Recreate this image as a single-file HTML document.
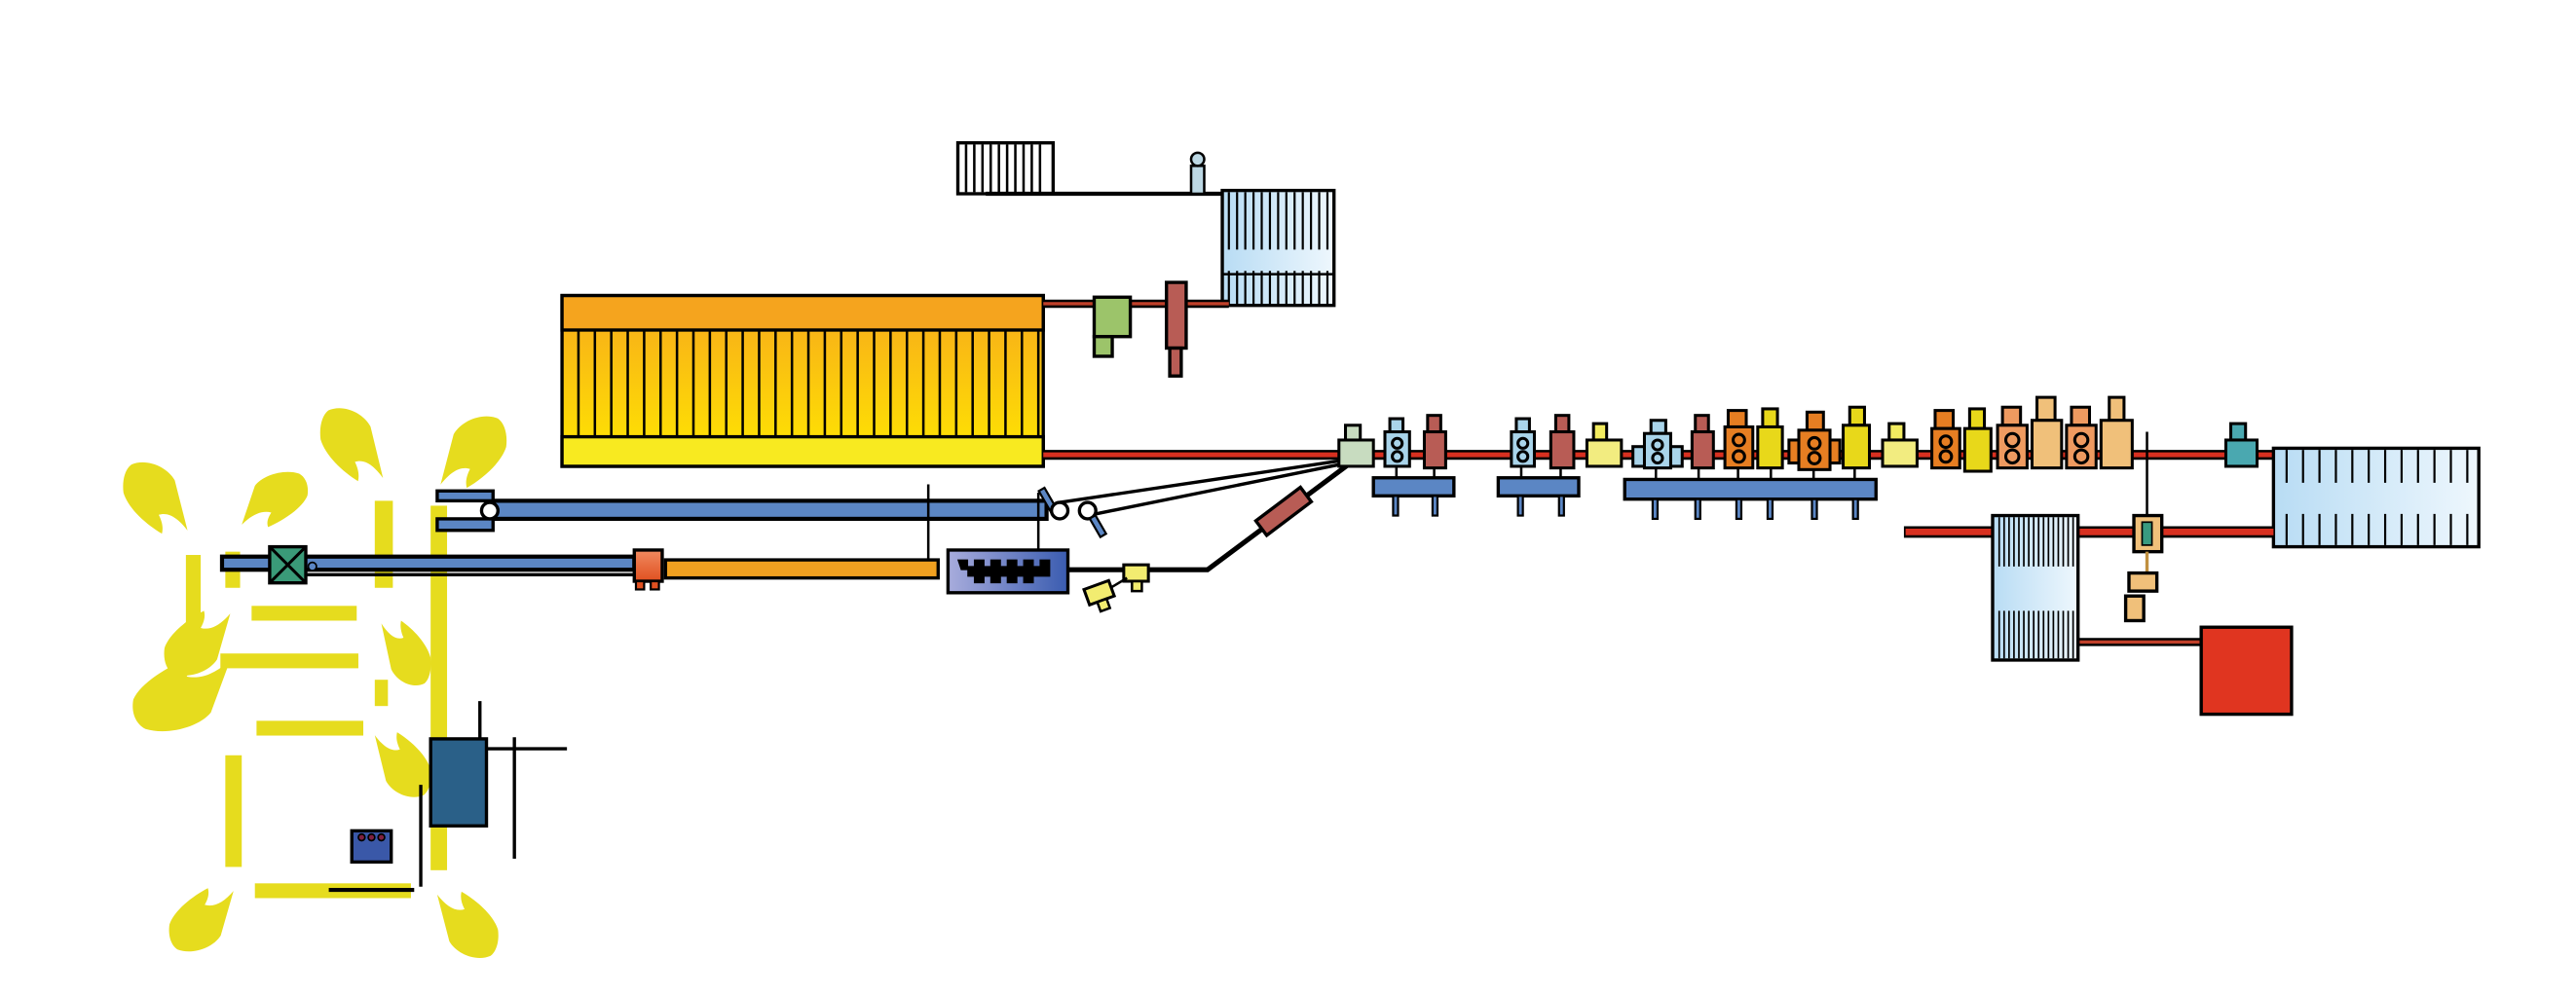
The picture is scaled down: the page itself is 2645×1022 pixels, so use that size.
<!DOCTYPE html>
<html><head><meta charset="utf-8"><style>html,body{margin:0;padding:0;background:#fff}svg{display:block}</style></head>
<body>
<svg width="2645" height="1022" viewBox="0 0 1568 606" xmlns="http://www.w3.org/2000/svg">
<defs>
<linearGradient id="yg" x1="0" y1="0" x2="0" y2="1"><stop offset="0" stop-color="#f7a81c"/><stop offset="1" stop-color="#ffe800"/></linearGradient>
<linearGradient id="bg" x1="0" y1="0" x2="1" y2="0"><stop offset="0" stop-color="#b8dcf4"/><stop offset="1" stop-color="#eef7fd"/></linearGradient>
<linearGradient id="pg" x1="0" y1="0" x2="1" y2="0"><stop offset="0" stop-color="#a8acdc"/><stop offset="1" stop-color="#3a5cb0"/></linearGradient>
<linearGradient id="og" x1="0" y1="0" x2="0" y2="1"><stop offset="0" stop-color="#f08a60"/><stop offset="1" stop-color="#e05020"/></linearGradient>
<path id="fl" d="M5,2 C14,-2 27,3 32,12 L40,44 C34,36 28,32 22,34 C24,38 25,42 24,46 C14,40 3,30 0,20 C-1,12 1,5 5,2Z" fill="#e6dc1e"/>
</defs>
<g stroke="#000" stroke-width="2">
<!-- yellow decorations -->
<g stroke="none" fill="#e6dc1e">
<rect x="113" y="338" width="9" height="55"/><rect x="137" y="336" width="9" height="22"/>
<rect x="228" y="305" width="11" height="53"/><rect x="262" y="308" width="10" height="222"/>
<rect x="153" y="369" width="64" height="9"/><rect x="134" y="398" width="84" height="9"/>
<rect x="156" y="439" width="65" height="9"/><rect x="155" y="538" width="95" height="9"/>
<rect x="137" y="460" width="10" height="68"/><rect x="228" y="414" width="8" height="16"/>
<use href="#fl" transform="translate(75,281) scale(0.975,0.957)"/>
<use href="#fl" transform="translate(187,287) scale(-1,0.74)"/>
<use href="#fl" transform="translate(195,248) scale(0.95,0.98)"/>
<use href="#fl" transform="translate(308,253) scale(-1,0.96)"/>
<use href="#fl" transform="translate(81,446) scale(1.475,-1)"/>
<use href="#fl" transform="translate(100,412) scale(1,-0.87)"/>
<use href="#fl" transform="translate(262,418) scale(-0.75,-0.87)"/>
<use href="#fl" transform="translate(262,486) scale(-0.85,-0.87)"/>
<use href="#fl" transform="translate(103,580) scale(0.975,-0.85)"/>
<use href="#fl" transform="translate(303,584) scale(-0.925,-0.89)"/>
</g>
<!-- top small grid -->
<rect x="583" y="87" width="58" height="31" fill="#fff"/>
<path d="M588,88V117M593,88V117M598,88V117M603,88V117M608,88V117M613,88V117M618,88V117M623,88V117M628,88V117M633,88V117" stroke-width="1.5"/>
<line x1="600" y1="118" x2="745" y2="118" stroke-width="2.5"/>
<rect x="725" y="101" width="8" height="17" fill="#bcd8e4" stroke-width="1.5"/><circle cx="729" cy="97" r="4" fill="#bcd8e4" stroke-width="1.5"/>
<rect x="744" y="116" width="68" height="70" fill="url(#bg)"/>
<path d="M748,117V152M753,117V152M758,117V152M763,117V152M768,117V152M773,117V152M778,117V152M783,117V152M788,117V152M793,117V152M798,117V152M803,117V152M808,117V152 M748,165V186M753,165V186M758,165V186M763,165V186M768,165V186M773,165V186M778,165V186M783,165V186M788,165V186M793,165V186M798,165V186M803,165V186M808,165V186" stroke-width="1.3"/>
<line x1="744" y1="167" x2="812" y2="167" stroke-width="1.5"/>
<!-- big yellow -->
<rect x="342" y="180" width="293" height="104" fill="url(#yg)"/>
<rect x="342" y="180" width="293" height="21" fill="#f5a41e"/>
<rect x="342" y="266" width="293" height="18" fill="#f8ea20"/>
<g stroke-width="1.5">
<path d="M352,201V266M362,201V266M372,201V266M382,201V266M392,201V266M402,201V266M412,201V266M422,201V266M432,201V266M442,201V266M452,201V266M462,201V266M472,201V266M482,201V266M492,201V266M502,201V266M512,201V266M522,201V266M532,201V266M542,201V266M552,201V266M562,201V266M572,201V266M582,201V266M592,201V266M602,201V266M612,201V266M622,201V266M632,201V266"/>
</g>
<!-- pipes upper -->
<line x1="635" y1="185" x2="748" y2="185" stroke-width="5"/><line x1="635" y1="185" x2="748" y2="185" stroke="#c0402a" stroke-width="2"/>
<rect x="666" y="181" width="22" height="24" fill="#9cc46a"/><rect x="666" y="205" width="11" height="12" fill="#9cc46a"/>
<rect x="710" y="172" width="12" height="40" fill="#b85c55"/><rect x="712" y="212" width="7" height="17" fill="#b85c55"/>
<!-- main pipe -->
<line x1="635" y1="277" x2="1385" y2="277" stroke-width="6"/><line x1="635" y1="277" x2="1385" y2="277" stroke="#d83020" stroke-width="3"/>
<!-- diag lines -->
<line x1="645" y1="306" x2="820" y2="280" stroke-width="2"/>
<line x1="662" y1="314" x2="820" y2="282" stroke-width="2"/>
<polyline points="650,347 735,347 822,282" fill="none" stroke-width="3"/>
<rect x="764" y="306" width="34" height="11" fill="#b85c55" transform="rotate(-37 781 311)"/>
<!-- main line components -->
<g stroke-width="1.8">
<rect x="819" y="259" width="9" height="10" fill="#c8dcc0"/><rect x="815" y="268" width="21" height="16" fill="#c8dcc0"/>
<rect x="846" y="255" width="8" height="9" fill="#a9d4ea"/><rect x="843" y="263" width="15" height="21" fill="#a9d4ea"/><circle cx="850.5" cy="270" r="3" fill="#a9d4ea"/><circle cx="850.5" cy="278" r="3" fill="#a9d4ea"/>
<rect x="869" y="253" width="8" height="10" fill="#b85c55"/><rect x="867" y="263" width="13" height="22" fill="#b85c55"/>
<rect x="923" y="255" width="8" height="9" fill="#a9d4ea"/><rect x="920" y="263" width="14" height="21" fill="#a9d4ea"/><circle cx="927" cy="270" r="3" fill="#a9d4ea"/><circle cx="927" cy="278" r="3" fill="#a9d4ea"/>
<rect x="947" y="253" width="8" height="10" fill="#b85c55"/><rect x="944" y="263" width="14" height="22" fill="#b85c55"/>
<rect x="970" y="258" width="8" height="10" fill="#f2ec60"/><rect x="966" y="268" width="21" height="16" fill="#f2ec80"/>
<rect x="994" y="272" width="30" height="12" fill="#a9d4ea"/><rect x="1005" y="256" width="9" height="8" fill="#a9d4ea"/><rect x="1001" y="264" width="16" height="21" fill="#a9d4ea"/><circle cx="1009" cy="271" r="3" fill="#a9d4ea"/><circle cx="1009" cy="279" r="3" fill="#a9d4ea"/>
<rect x="1032" y="253" width="8" height="10" fill="#b85c55"/><rect x="1030" y="263" width="13" height="22" fill="#b85c55"/>
<rect x="1052" y="250" width="11" height="10" fill="#e67e22"/><rect x="1050" y="260" width="17" height="25" fill="#e67e22"/><circle cx="1058.5" cy="268" r="3.5" fill="#e67e22"/><circle cx="1058.5" cy="278" r="3.5" fill="#e67e22"/>
<rect x="1073" y="249" width="9" height="11" fill="#e8d81a"/><rect x="1070" y="260" width="15" height="25" fill="#e8d81a"/>
<rect x="1089" y="268" width="31" height="14" fill="#e67e22"/><rect x="1100" y="251" width="10" height="11" fill="#e67e22"/><rect x="1095" y="262" width="19" height="24" fill="#e67e22"/><circle cx="1104.5" cy="270" r="3.5" fill="#e67e22"/><circle cx="1104.5" cy="279" r="3.5" fill="#e67e22"/>
<rect x="1126" y="248" width="9" height="11" fill="#e8d81a"/><rect x="1122" y="259" width="16" height="26" fill="#e8d81a"/>
<rect x="1150" y="258" width="9" height="10" fill="#f2ec60"/><rect x="1146" y="268" width="21" height="16" fill="#f2ec80"/>
<rect x="1178" y="250" width="11" height="11" fill="#e67e22"/><rect x="1176" y="261" width="17" height="24" fill="#e67e22"/><circle cx="1184.5" cy="269" r="3.5" fill="#e67e22"/><circle cx="1184.5" cy="278" r="3.5" fill="#e67e22"/>
<rect x="1199" y="249" width="9" height="12" fill="#e8d81a"/><rect x="1196" y="261" width="16" height="26" fill="#e8d81a"/>
<rect x="1219" y="248" width="11" height="11" fill="#ee9a60"/><rect x="1216" y="259" width="18" height="26" fill="#ee9a60"/><circle cx="1225" cy="268" r="4" fill="#ee9a60"/><circle cx="1225" cy="278" r="4" fill="#ee9a60"/>
<rect x="1240" y="242" width="11" height="14" fill="#f0c07a"/><rect x="1237" y="256" width="18" height="29" fill="#f0c07a"/>
<rect x="1261" y="248" width="11" height="11" fill="#ee9a60"/><rect x="1258" y="259" width="18" height="26" fill="#ee9a60"/><circle cx="1267" cy="268" r="4" fill="#ee9a60"/><circle cx="1267" cy="278" r="4" fill="#ee9a60"/>
<rect x="1284" y="242" width="9" height="14" fill="#f0c07a"/><rect x="1279" y="256" width="19" height="29" fill="#f0c07a"/>
<rect x="1358" y="258" width="9" height="10" fill="#4aa8b0"/><rect x="1355" y="268" width="19" height="16" fill="#4aa8b0"/>
</g>
<!-- blue bars -->
<g fill="#5b86c4">
<path d="M850,284V292M873,285V292M926,284V292M950,285V292M1008,285V292M1034,285V292M1058,285V292M1078,285V292M1104,286V292M1129,285V292" stroke-width="1.5"/>
<rect x="836" y="291" width="49" height="11"/><rect x="912" y="291" width="49" height="11"/><rect x="989" y="292" width="153" height="12"/>
<rect x="848" y="302" width="3" height="12" stroke-width="1.3"/><rect x="872" y="302" width="3" height="12" stroke-width="1.3"/>
<rect x="924" y="302" width="3" height="12" stroke-width="1.3"/><rect x="949" y="302" width="3" height="12" stroke-width="1.3"/>
<rect x="1006" y="304" width="3" height="12" stroke-width="1.3"/><rect x="1032" y="304" width="3" height="12" stroke-width="1.3"/><rect x="1057" y="304" width="3" height="12" stroke-width="1.3"/><rect x="1076" y="304" width="3" height="12" stroke-width="1.3"/><rect x="1103" y="304" width="3" height="12" stroke-width="1.3"/><rect x="1128" y="304" width="3" height="12" stroke-width="1.3"/>
</g>
<!-- right side -->
<rect x="1384" y="273" width="125" height="60" fill="url(#bg)"/>
<path d="M1392,274V294M1402,274V294M1412,274V294M1422,274V294M1432,274V294M1442,274V294M1452,274V294M1462,274V294M1472,274V294M1482,274V294M1492,274V294M1502,274V294 M1392,313V332M1402,313V332M1412,313V332M1422,313V332M1432,313V332M1442,313V332M1452,313V332M1462,313V332M1472,313V332M1482,313V332M1492,313V332M1502,313V332" stroke-width="1.3"/>
<line x1="1159" y1="324" x2="1384" y2="324" stroke-width="7"/><line x1="1160" y1="324" x2="1384" y2="324" stroke="#d83020" stroke-width="4"/>
<line x1="1265" y1="391" x2="1340" y2="391" stroke-width="5"/><line x1="1265" y1="391" x2="1340" y2="391" stroke="#c0402a" stroke-width="2"/>
<rect x="1213" y="314" width="52" height="88" fill="url(#bg)"/>
<path d="M1217,315V345M1220,315V345M1223,315V345M1226,315V345M1229,315V345M1232,315V345M1235,315V345M1238,315V345M1241,315V345M1244,315V345M1247,315V345M1250,315V345M1253,315V345M1256,315V345M1259,315V345M1262,315V345 M1217,372V401M1220,372V401M1223,372V401M1226,372V401M1229,372V401M1232,372V401M1235,372V401M1238,372V401M1241,372V401M1244,372V401M1247,372V401M1250,372V401M1253,372V401M1256,372V401M1259,372V401M1262,372V401" stroke-width="1"/>
<line x1="1307" y1="263" x2="1307" y2="314" stroke-width="1.5"/>
<rect x="1299" y="314" width="17" height="22" fill="#f0c07a"/><rect x="1304" y="318" width="6" height="14" fill="#3a9a80" stroke-width="1"/>
<line x1="1307" y1="336" x2="1307" y2="349" stroke="#c09040" stroke-width="2"/>
<rect x="1296" y="349" width="17" height="11" fill="#f0c07a"/><rect x="1294" y="363" width="11" height="15" fill="#f0c07a"/>
<rect x="1340" y="382" width="55" height="53" fill="#e03520"/>
<!-- left middle -->
<rect x="300" y="305" width="337" height="11" fill="#5b86c4" stroke-width="2.5"/>
<rect x="266" y="299" width="34" height="6" fill="#5b86c4"/><rect x="266" y="316" width="34" height="7" fill="#5b86c4"/>
<circle cx="298" cy="311" r="5" fill="#fff"/>
<rect x="636" y="297" width="4" height="16" fill="#5b86c4" transform="rotate(-30 638 305)" stroke-width="1.3"/>
<circle cx="645" cy="311" r="5" fill="#fff"/><circle cx="662" cy="311" r="5" fill="#fff"/>
<rect x="666" y="314" width="4" height="13" fill="#5b86c4" transform="rotate(-30 668 320)" stroke-width="1.3"/>
<line x1="565" y1="295" x2="565" y2="350" stroke-width="1.5"/><line x1="632" y1="300" x2="632" y2="350" stroke-width="1.5"/>
<!-- lower line -->
<rect x="135" y="339" width="251" height="8" fill="#5b86c4" stroke-width="2.5"/>
<line x1="186" y1="350" x2="386" y2="350" stroke-width="2"/>
<rect x="164" y="333" width="22" height="22" fill="#3a9a78"/><path d="M164,333L186,355M186,333L164,355" stroke-width="1.8"/>
<circle cx="190" cy="345" r="2.5" fill="#5b86c4" stroke-width="1"/>
<rect x="386" y="335" width="17" height="19" fill="url(#og)"/><rect x="387" y="354" width="5" height="5" fill="#e05020" stroke-width="1.3"/><rect x="396" y="354" width="5" height="5" fill="#e05020" stroke-width="1.3"/>
<rect x="405" y="341" width="166" height="11" fill="#f0a020"/>
<rect x="577" y="335" width="73" height="26" fill="url(#pg)"/>
<path d="M583,341h6v4h4v-4h6v4h4v-4h6v4h4v-4h6v4h4v-4h6v4h4v-4h6v10h-10v4h-6v-4h-4v4h-6v-4h-4v4h-6v-4h-4v4h-6v-4h-4v-4h-4z" fill="#000" stroke-width="0.5"/>
<rect x="684" y="344" width="15" height="10" fill="#f2ec70" stroke-width="1.8"/><rect x="689" y="354" width="6" height="6" fill="#f2ec70" stroke-width="1.5"/>
<line x1="676" y1="358" x2="686" y2="352" stroke-width="1.5"/>
<g transform="rotate(-20 669 361)"><rect x="661" y="356" width="16" height="10" fill="#f2ec70" stroke-width="1.8"/><rect x="666" y="366" width="6" height="6" fill="#f2ec70" stroke-width="1.5"/></g>
<!-- bottom left -->
<line x1="292" y1="427" x2="292" y2="450" stroke-width="2"/>
<rect x="262" y="450" width="34" height="53" fill="#2a6088"/>
<line x1="296" y1="456" x2="345" y2="456" stroke-width="2"/>
<line x1="313" y1="449" x2="313" y2="523" stroke-width="2"/>
<line x1="256" y1="478" x2="256" y2="540" stroke-width="2"/>
<line x1="200" y1="542" x2="252" y2="542" stroke-width="2.5"/>
<rect x="214" y="506" width="24" height="19" fill="#3a58a8"/>
<circle cx="220" cy="510" r="2" fill="#802040" stroke-width="1"/><circle cx="226" cy="510" r="2" fill="#802040" stroke-width="1"/><circle cx="232" cy="510" r="2" fill="#802040" stroke-width="1"/>
</g>
</svg>
</body></html>
